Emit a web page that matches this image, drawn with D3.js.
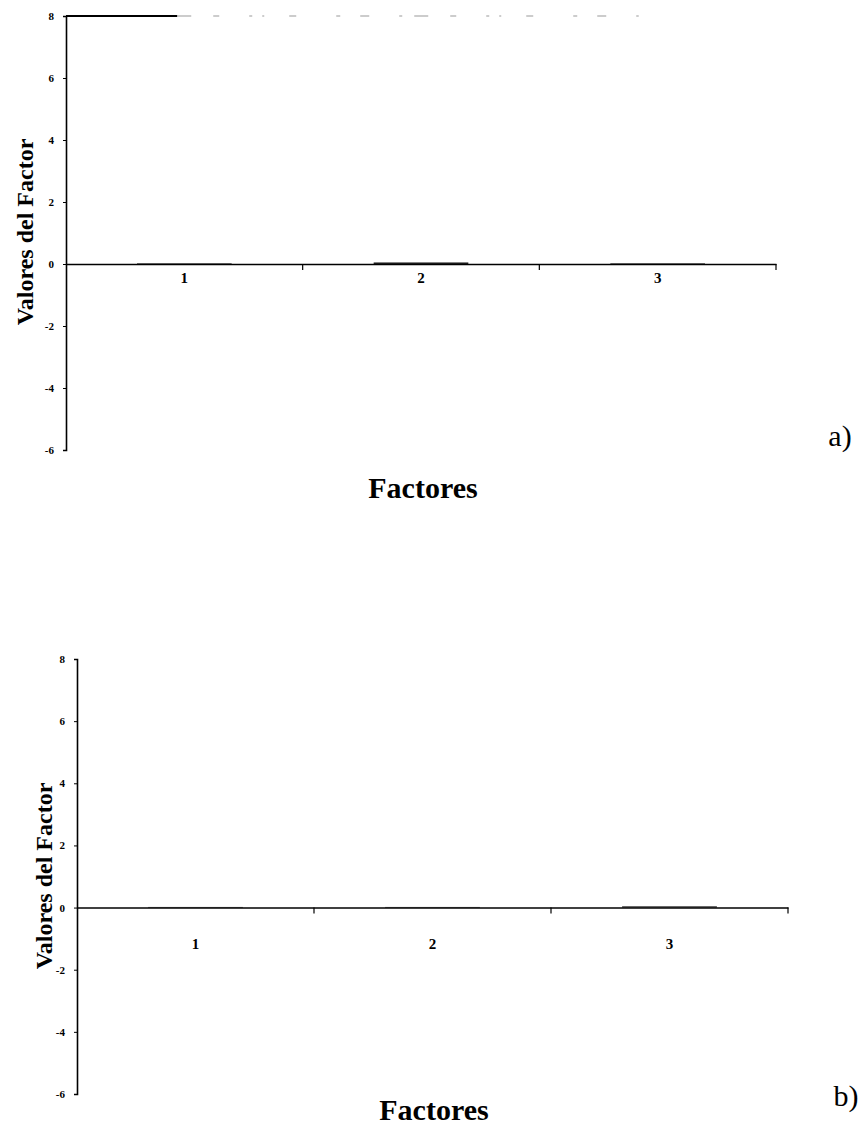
<!DOCTYPE html>
<html>
<head>
<meta charset="utf-8">
<script src="https://cdn.jsdelivr.net/npm/d3@7"></script>
<style>
  body { margin: 0; background: #fff; }
  svg { display: block; }
</style>
</head>
<body>
<script>
const width = 861;
const height = 1128;
const serif = "'Liberation Serif', 'DejaVu Serif', serif";

// データ
const categories = ["1", "2", "3"];
const valuesA = [0.02, 0.05, 0.02];
const valuesB = [0.02, 0.02, 0.04];
const yTicks = [8, 6, 4, 2, 0, -2, -4, -6];
const yLabel = "Valores del Factor";
const xLabel = "Factores";

const svg = d3.select("body")
    .append("svg")
    .attr("width", width)
    .attr("height", height)
    .style("font-family", serif);

// パネルを描く
function drawPanel(p) {
    const g = svg.append("g");

    const x = d3.scaleBand()
        .domain(categories)
        .range([p.x0, p.x1]);

    const y = d3.scaleLinear()
        .domain([-6, 8])
        .range([p.yBottom, p.yTop]);

    // 棒（ほぼゼロ）
    g.selectAll("rect.bar")
        .data(p.values)
        .enter()
        .append("rect")
        .attr("class", "bar")
        .attr("x", (d, i) => x(categories[i]) + x.bandwidth() * 0.3)
        .attr("width", x.bandwidth() * 0.4)
        .attr("y", d => y(Math.max(0, d)))
        .attr("height", d => Math.abs(y(d) - y(0)))
        .attr("fill", "#222");

    // Y軸
    const yAxis = d3.axisLeft(y)
        .tickValues(yTicks)
        .tickSize(3)
        .tickFormat(d => String(d));
    const ya = g.append("g")
        .attr("transform", `translate(${p.x0},0)`)
        .call(yAxis)
        .attr("font-family", serif);
    ya.select(".domain").attr("stroke", "#000").attr("stroke-width", 1.6);
    ya.selectAll(".tick line").attr("stroke", "#000");
    ya.selectAll(".tick text")
        .attr("font-size", 11)
        .attr("font-weight", "bold")
        .attr("x", -p.tickPad)
        .attr("fill", "#000");

    // X軸（0の位置）
    const xAxis = d3.axisBottom(x)
        .tickSize(0)
        .tickSizeOuter(0);
    const xa = g.append("g")
        .attr("transform", `translate(0,${y(0)})`)
        .call(xAxis)
        .attr("font-family", serif);
    xa.select(".domain").attr("stroke", "#000").attr("stroke-width", 1.6);
    xa.selectAll(".tick text")
        .attr("font-size", 15)
        .attr("font-weight", "bold")
        .attr("dy", "0")
        .attr("y", p.catDy)
        .attr("fill", "#000");

    // カテゴリ境界の目盛り
    g.selectAll("line.sep")
        .data(categories)
        .enter()
        .append("line")
        .attr("class", "sep")
        .attr("x1", d => x(d) + x.bandwidth())
        .attr("x2", d => x(d) + x.bandwidth())
        .attr("y1", y(0))
        .attr("y2", y(0) + 6)
        .attr("stroke", "#000")
        .attr("stroke-width", 1.2);

    // 上端の線（かすれている）
    if (p.topLine) {
        g.append("line")
            .attr("x1", p.x0)
            .attr("x2", x("1") + x.bandwidth() * 0.47)
            .attr("y1", y(8))
            .attr("y2", y(8))
            .attr("stroke", "#000")
            .attr("stroke-width", 2);
        g.append("line")
            .attr("x1", x("1") + x.bandwidth() * 0.47)
            .attr("x2", x("3") + x.bandwidth() * 0.42)
            .attr("y1", y(8))
            .attr("y2", y(8))
            .attr("stroke", "#999")
            .attr("stroke-width", 1.2)
            .attr("stroke-dasharray", "14,22,6,30,3,10,2,25,7,40,4,20,9,30,3,12");
    }

    // 軸ラベル
    g.append("text")
        .attr("transform", `translate(${p.yLabelX},${p.yLabelY}) rotate(-90)`)
        .attr("text-anchor", "middle")
        .attr("font-size", 24)
        .attr("font-weight", "bold")
        .text(yLabel);

    g.append("text")
        .attr("x", p.xLabelX)
        .attr("y", p.xLabelY)
        .attr("text-anchor", "middle")
        .attr("font-size", 30)
        .attr("font-weight", "bold")
        .text(xLabel);

    g.append("text")
        .attr("x", p.tagX)
        .attr("y", p.tagY)
        .attr("text-anchor", "middle")
        .attr("font-size", 30)
        .text(p.tag);
}

drawPanel({
    values: valuesA,
    x0: 66, x1: 776,
    yTop: 16, yBottom: 450,
    tickPad: 12,
    catDy: 19,
    topLine: true,
    yLabelX: 33, yLabelY: 232,
    xLabelX: 423, xLabelY: 498,
    tagX: 840, tagY: 446,
    tag: "a)"
});

drawPanel({
    values: valuesB,
    x0: 77, x1: 788,
    yTop: 659, yBottom: 1094,
    tickPad: 12,
    catDy: 41,
    topLine: false,
    yLabelX: 52, yLabelY: 876,
    xLabelX: 434, xLabelY: 1120,
    tagX: 846, tagY: 1106,
    tag: "b)"
});
</script>
</body>
</html>
